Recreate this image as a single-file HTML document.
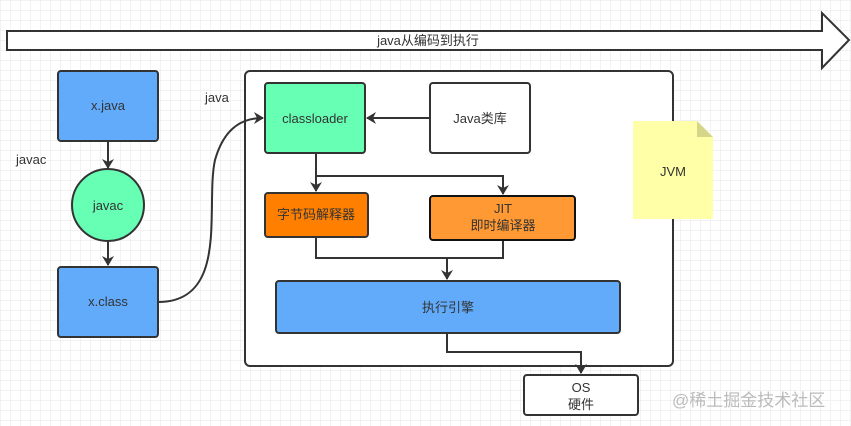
<!DOCTYPE html><html><head><style>body{margin:0;background:#fff}svg{display:block}text{font-family:"Liberation Sans","Noto Sans CJK SC",sans-serif;font-size:13px;fill:#333}</style></head><body>
<svg width="851" height="426" viewBox="0 0 851 426" xmlns="http://www.w3.org/2000/svg">
<defs><pattern id="g" width="10" height="10" patternUnits="userSpaceOnUse"><path d="M10 0H0V10" fill="none" stroke="#e6e6e6" stroke-width="1"/></pattern>
<marker id="a" markerWidth="10" markerHeight="12" refX="9" refY="6" orient="auto" markerUnits="userSpaceOnUse"><path d="M0,0L10,6L0,12L3,6z" fill="#333"/></marker></defs>
<rect width="851" height="426" fill="url(#g)"/>
<path d="M7,31H822V13L849,40L822,68V50H7z" fill="#fff" stroke="#333" stroke-width="2"/>
<text x="428" y="45" text-anchor="middle">java从编码到执行</text>
<rect x="245" y="71" width="428" height="295" rx="5" fill="#fff" stroke="#333" stroke-width="2"/>
<text x="205" y="102">java</text>
<text x="16" y="164">javac</text>
<rect x="58" y="71" width="100" height="70" rx="3" fill="#62abfa" stroke="#333" stroke-width="2"/>
<text x="108" y="110" text-anchor="middle">x.java</text>
<circle cx="108" cy="205" r="36" fill="#66ffb3" stroke="#333" stroke-width="2"/>
<text x="108" y="210" text-anchor="middle">javac</text>
<rect x="58" y="267" width="100" height="70" rx="3" fill="#62abfa" stroke="#333" stroke-width="2"/>
<text x="108" y="306" text-anchor="middle">x.class</text>
<g fill="none" stroke="#333" stroke-width="2">
<path d="M108,141V168" marker-end="url(#a)"/>
<path d="M108,241V265" marker-end="url(#a)"/>
<path d="M158,302C230,302 205,205 215,160C225,125 245,118 263,118" marker-end="url(#a)"/>
<path d="M430,118H367" marker-end="url(#a)"/>
<path d="M316,153V176H503V194" marker-end="url(#a)"/>
<path d="M316,176V191" marker-end="url(#a)"/>
<path d="M316,237V258H447M503,240V258H447V279" marker-end="url(#a)"/>
<path d="M447,333V352H581V373" marker-end="url(#a)"/>
</g>
<rect x="265" y="83" width="100" height="70" rx="3" fill="#66ffb3" stroke="#333" stroke-width="2"/>
<text x="315" y="123" text-anchor="middle">classloader</text>
<rect x="430" y="83" width="100" height="70" rx="3" fill="#fff" stroke="#333" stroke-width="2"/>
<text x="480" y="123" text-anchor="middle">Java类库</text>
<rect x="265" y="193" width="103" height="44" rx="3" fill="#ff8000" stroke="#333" stroke-width="2"/>
<text x="316" y="219" text-anchor="middle">字节码解释器</text>
<rect x="430" y="196" width="145" height="44" rx="3" fill="#ff9933" stroke="#111" stroke-width="2"/>
<text x="503" y="213" text-anchor="middle">JIT</text>
<text x="503" y="230" text-anchor="middle">即时编译器</text>
<rect x="276" y="281" width="344" height="52" rx="3" fill="#62abfa" stroke="#333" stroke-width="2"/>
<text x="448" y="312" text-anchor="middle">执行引擎</text>
<rect x="524" y="375" width="114" height="40" rx="3" fill="#fff" stroke="#333" stroke-width="2"/>
<text x="581" y="392" text-anchor="middle">OS</text>
<text x="581" y="409" text-anchor="middle">硬件</text>
<path d="M633,121H697L713,137V219H633z" fill="#ffffa8"/>
<path d="M697,121L713,137H697z" fill="#d6d68a"/>
<text x="673" y="176" text-anchor="middle">JVM</text>
<text x="672" y="406" style="font-size:17px;fill:#bbb">@稀土掘金技术社区</text>
</svg></body></html>
